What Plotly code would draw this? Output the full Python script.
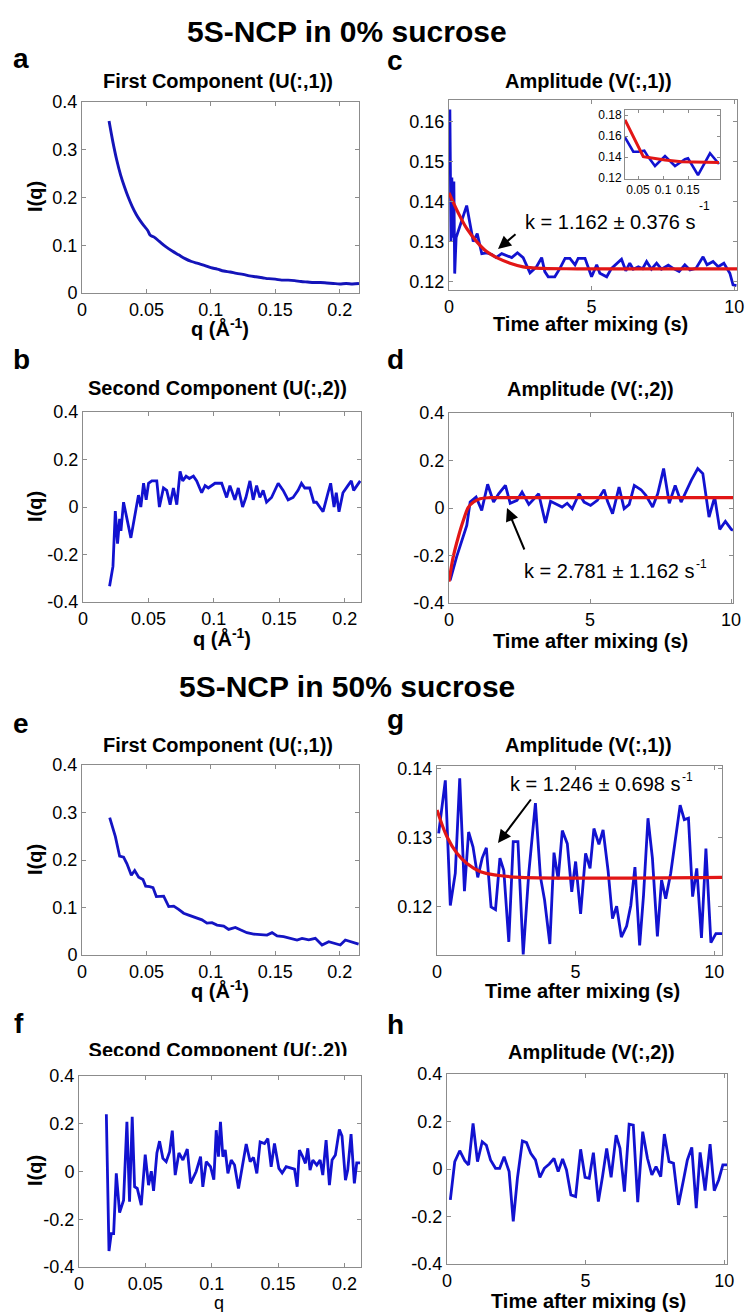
import plotly.graph_objects as go

# ---------------- data ----------------
# a: 0% sucrose, first component
Q_A = [0.021, 0.024, 0.027, 0.030, 0.033, 0.036, 0.039, 0.042, 0.045, 0.048, 0.051, 0.053,
       0.056, 0.060, 0.065, 0.070, 0.075, 0.080, 0.085, 0.090, 0.095, 0.100, 0.105, 0.110,
       0.115, 0.120, 0.125, 0.130, 0.135, 0.140, 0.145, 0.150, 0.155, 0.160, 0.165, 0.170,
       0.175, 0.180, 0.185, 0.190, 0.195, 0.200, 0.205, 0.210, 0.215]
I_A = [0.360, 0.316, 0.278, 0.247, 0.222, 0.200, 0.181, 0.165, 0.152, 0.141, 0.131, 0.121,
       0.117, 0.108, 0.097, 0.088, 0.080, 0.072, 0.066, 0.062, 0.058, 0.053, 0.050, 0.046,
       0.044, 0.041, 0.039, 0.036, 0.034, 0.032, 0.030, 0.029, 0.027, 0.027, 0.026, 0.024,
       0.023, 0.022, 0.022, 0.021, 0.020, 0.019, 0.020, 0.019, 0.020]

# b: 0% sucrose, second component
Q_B = [0.0203, 0.0229, 0.0247, 0.0264, 0.0280, 0.0290, 0.0310, 0.0366, 0.0424, 0.0442,
       0.0463, 0.0483, 0.0501, 0.0526, 0.0564, 0.0584, 0.0615, 0.0640, 0.0666, 0.0691,
       0.0717, 0.0742, 0.0762, 0.0788, 0.0813, 0.0844, 0.0869, 0.0907, 0.0933, 0.0958,
       0.1009, 0.1060, 0.1098, 0.1123, 0.1161, 0.1187, 0.1220, 0.1245, 0.1276, 0.1301,
       0.1327, 0.1352, 0.1377, 0.1403, 0.1441, 0.1492, 0.1530, 0.1568, 0.1606, 0.1644,
       0.1670, 0.1695, 0.1733, 0.1764, 0.1784, 0.1809, 0.1835, 0.1873, 0.1893, 0.1919,
       0.1936, 0.1957, 0.1987, 0.2025, 0.2051, 0.2069, 0.2102, 0.2119]
I_B = [-0.334, -0.25, -0.017, -0.154, -0.05, -0.10, 0.02, -0.13, 0.05, 0.0,
       0.10, 0.03, 0.10, 0.11, 0.11, 0.0, 0.08, 0.07, 0.01, 0.08,
       0.01, 0.15, 0.11, 0.13, 0.12, 0.13, 0.11, 0.06, 0.09, 0.08,
       0.10, 0.10, 0.04, 0.09, 0.03, 0.08, 0.0, 0.04, 0.11, 0.03,
       0.09, 0.04, 0.07, 0.02, 0.04, 0.10, 0.07, 0.03, 0.04, 0.07,
       0.10, 0.08, 0.08, 0.02, 0.02, 0.0, -0.02, 0.06, 0.10, 0.0,
       0.06, -0.02, 0.06, 0.09, 0.11, 0.07, 0.10, 0.11]

# c: 0% sucrose, amplitude V(:,1) + fit
T_C = [0.03, 0.07, 0.10, 0.13, 0.17, 0.20, 0.25, 0.62, 0.85, 0.99, 1.15, 1.32, 1.50, 1.65,
       1.85, 2.00, 2.20, 2.40, 2.60, 2.84, 3.07, 3.25, 3.36, 3.48, 3.71, 3.89, 4.07, 4.24,
       4.42, 4.53, 4.77, 5.00, 5.18, 5.29, 5.53, 5.70, 5.88, 6.05, 6.20, 6.34, 6.46, 6.64,
       6.79, 6.93, 7.10, 7.28, 7.45, 7.69, 7.86, 8.07, 8.27, 8.45, 8.66, 8.91, 9.05, 9.26,
       9.44, 9.64, 9.85, 9.96, 10.08]
V_C = [0.163, 0.130, 0.146, 0.131, 0.145, 0.122, 0.131, 0.139, 0.130, 0.132, 0.127, 0.1272,
       0.1268, 0.126, 0.127, 0.1265, 0.126, 0.1272, 0.126, 0.1222, 0.1237, 0.126, 0.1225,
       0.1212, 0.1212, 0.1233, 0.1258, 0.1258, 0.1242, 0.1258, 0.1258, 0.1212, 0.1242,
       0.1221, 0.1212, 0.1233, 0.1246, 0.1256, 0.1227, 0.1246, 0.1231, 0.1237, 0.1232,
       0.125, 0.1231, 0.1246, 0.1231, 0.1241, 0.1233, 0.1225, 0.1242, 0.1229, 0.1233,
       0.1262, 0.1242, 0.125, 0.1237, 0.1246, 0.1221, 0.1192, 0.119]
T_C_FIT = [0.0, 0.33, 0.62, 0.97, 1.32, 1.73, 2.14, 2.6, 3.3, 4.5, 10.1]
V_C_FIT = [0.1422, 0.1371, 0.1333, 0.1300, 0.1275, 0.1258, 0.1246, 0.1237, 0.1233, 0.1232, 0.1232]

# c inset
X_IN = [0.024, 0.0406, 0.0506, 0.0626, 0.070, 0.084, 0.104, 0.124, 0.144, 0.150, 0.170, 0.194, 0.212]
V_IN = [0.159, 0.1453, 0.1453, 0.1463, 0.1406, 0.1317, 0.1412, 0.1317, 0.1381, 0.139, 0.1231, 0.1438, 0.1336]
X_IN_FIT = [0.024, 0.0606, 0.104, 0.137, 0.212]
V_IN_FIT = [0.1756, 0.1406, 0.1374, 0.1358, 0.1349]

# d: 0% sucrose, amplitude V(:,2) + fit
T_D = [0.04, 0.27, 0.63, 0.75, 0.96, 1.16, 1.37, 1.58, 1.76, 2.0, 2.17, 2.41, 2.59, 2.83,
       3.18, 3.42, 3.60, 3.78, 4.01, 4.19, 4.37, 4.61, 4.79, 5.02, 5.26, 5.50, 5.62, 5.80,
       6.03, 6.21, 6.39, 6.57, 6.81, 6.98, 7.22, 7.40, 7.61, 7.81, 8.02, 8.23, 8.41, 8.59,
       8.82, 9.0, 9.22, 9.42, 9.60, 9.80, 10.01, 10.07]
V_D = [-0.305, -0.206, -0.073, 0.025, 0.046, -0.01, 0.1, 0.025, 0.06, 0.095, 0.02, 0.032,
       0.067, 0.015, 0.06, -0.063, 0.028, 0.018, 0.004, 0.02, -0.003, 0.06, 0.025, 0.011,
       0.032, 0.077, 0.028, -0.024, 0.088, -0.003, 0.015, 0.095, 0.077, 0.053, 0.004, 0.06,
       0.166, 0.02, 0.095, 0.025, 0.074, 0.116, 0.166, 0.145, -0.038, 0.046, -0.09, -0.056,
       -0.09, -0.094]
T_D_FIT = [0.0, 0.15, 0.33, 0.51, 0.69, 0.87, 1.10, 1.46, 2.0, 10.07]
V_D_FIT = [-0.31, -0.206, -0.122, -0.052, 0.004, 0.025, 0.039, 0.0435, 0.0435, 0.0435]

# e: 50% sucrose, first component
Q_E = [0.0215, 0.0259, 0.0292, 0.0323, 0.0349, 0.0383, 0.0409, 0.0440, 0.0473, 0.0494,
       0.0525, 0.0551, 0.0577, 0.0608, 0.0634, 0.0673, 0.0712, 0.0750, 0.0789, 0.0828,
       0.0880, 0.0931, 0.0970, 0.1009, 0.1048, 0.1100, 0.1138, 0.1190, 0.1229, 0.1280,
       0.1332, 0.1384, 0.1436, 0.1475, 0.1514, 0.1565, 0.1617, 0.1669, 0.1708, 0.1760,
       0.1811, 0.1863, 0.1915, 0.1966, 0.2005, 0.2044, 0.2096, 0.2147]
I_E = [0.289, 0.249, 0.208, 0.206, 0.192, 0.168, 0.178, 0.164, 0.159, 0.145,
       0.144, 0.142, 0.123, 0.124, 0.124, 0.102, 0.103, 0.096, 0.088, 0.084,
       0.079, 0.074, 0.067, 0.068, 0.063, 0.061, 0.054, 0.058, 0.053, 0.047,
       0.044, 0.0435, 0.042, 0.047, 0.040, 0.0386, 0.035, 0.0316, 0.035, 0.032,
       0.035, 0.021, 0.028, 0.0246, 0.021, 0.0316, 0.028, 0.023]

# f: 50% sucrose, second component
Q_F = [0.0206, 0.0226, 0.0243, 0.0261, 0.0281, 0.0306, 0.0336, 0.0361, 0.0381, 0.0401,
       0.0419, 0.0439, 0.0469, 0.0499, 0.0524, 0.0545, 0.0562, 0.0587, 0.0607, 0.0632,
       0.0657, 0.0683, 0.0703, 0.0725, 0.0753, 0.0783, 0.0816, 0.0841, 0.0883, 0.0916,
       0.0933, 0.0959, 0.0991, 0.1016, 0.1034, 0.1051, 0.1066, 0.1084, 0.1102, 0.1122,
       0.1147, 0.1172, 0.1202, 0.1230, 0.1260, 0.1290, 0.1315, 0.1340, 0.1365, 0.1398,
       0.1423, 0.1448, 0.1473, 0.1506, 0.1531, 0.1561, 0.1598, 0.1624, 0.1644, 0.1661,
       0.1686, 0.1706, 0.1724, 0.1741, 0.1762, 0.1792, 0.1817, 0.1837, 0.1862, 0.1887,
       0.1907, 0.1932, 0.1962, 0.1982, 0.2008, 0.2025, 0.2050, 0.2075, 0.2093, 0.2118]
I_F = [0.24, -0.333, -0.26, -0.26, -0.008, -0.172, -0.12, 0.208, -0.127, 0.229,
       -0.064, -0.071, -0.141, 0.071, -0.057, 0.001, -0.081, 0.078, 0.127, 0.055,
       0.041, 0.083, 0.171, -0.015, 0.078, 0.048, 0.094, -0.05, 0.0, 0.062,
       -0.064, 0.041, 0.02, -0.034, 0.173, 0.062, 0.208, 0.062, 0.09, -0.008,
       0.048, 0.027, -0.071, 0.027, 0.115, 0.041, 0.059, -0.008, 0.124, 0.117,
       0.138, 0.02, 0.117, 0.013, -0.006, 0.02, 0.013, 0.01, -0.064, 0.09,
       0.062, 0.034, 0.097, 0.006, 0.048, 0.027, 0.048, -0.015, 0.131, -0.057,
       0.048, 0.069, 0.176, 0.148, -0.036, 0.006, 0.157, -0.05, 0.036, 0.036]

# g: 50% sucrose, amplitude V(:,1) + fit
T_G = [0.06, 0.30, 0.48, 0.66, 0.82, 0.99, 1.14, 1.30, 1.47, 1.63, 1.78, 1.95, 2.11, 2.27,
       2.41, 2.59, 2.75, 2.92, 3.11, 3.31, 3.55, 3.73, 3.88, 4.07, 4.22, 4.37, 4.52, 4.70,
       4.86, 5.0, 5.18, 5.36, 5.52, 5.66, 5.84, 5.99, 6.17, 6.33, 6.48, 6.65, 6.84, 6.99,
       7.14, 7.31, 7.45, 7.61, 7.77, 7.95, 8.10, 8.25, 8.43, 8.61, 8.77, 8.92, 9.07, 9.22,
       9.37, 9.54, 9.70, 9.88, 10.06, 10.3]
V_G = [0.1306, 0.1383, 0.1201, 0.1248, 0.1386, 0.1222, 0.1308, 0.1286, 0.1242, 0.127,
       0.1285, 0.1199, 0.1195, 0.127, 0.1252, 0.1148, 0.1294, 0.1294, 0.113, 0.1248,
       0.135, 0.1243, 0.1209, 0.1145, 0.1278, 0.1239, 0.131, 0.1291, 0.1221, 0.1265,
       0.1189, 0.1277, 0.1255, 0.1313, 0.129, 0.1311, 0.1252, 0.1182, 0.12, 0.1155,
       0.1171, 0.1201, 0.1257, 0.1143, 0.1216, 0.1328, 0.127, 0.1156, 0.1238, 0.1211,
       0.1248, 0.1301, 0.1347, 0.1326, 0.1328, 0.1214, 0.1255, 0.1154, 0.1284, 0.1147,
       0.116, 0.116]
T_G_FIT = [0.0, 0.36, 0.72, 1.08, 1.57, 2.17, 3.0, 10.3]
V_G_FIT = [0.134, 0.1301, 0.1277, 0.1262, 0.125, 0.1245, 0.1242, 0.1242]

# h: 50% sucrose, amplitude V(:,2)
T_H = [0.12, 0.28, 0.46, 0.64, 0.78, 0.94, 1.10, 1.27, 1.42, 1.57, 1.75, 1.90, 2.06, 2.24,
       2.39, 2.54, 2.72, 2.87, 3.02, 3.19, 3.35, 3.51, 3.69, 3.86, 4.01, 4.17, 4.31, 4.47,
       4.64, 4.82, 4.98, 5.13, 5.28, 5.46, 5.61, 5.76, 5.92, 6.10, 6.24, 6.40, 6.57, 6.72,
       6.88, 7.06, 7.23, 7.39, 7.54, 7.71, 7.84, 8.01, 8.17, 8.35, 8.53, 8.67, 8.83, 8.99,
       9.13, 9.31, 9.49, 9.64, 9.80, 9.95, 10.1]
V_H = [-0.13, 0.031, 0.077, 0.035, 0.017, 0.192, 0.031, 0.115, 0.1, 0.038,
       0.003, 0.003, 0.052, -0.011, -0.221, -0.039, 0.118, 0.111, 0.066, 0.038,
       -0.035, 0.003, 0.021, 0.045, -0.011, 0.042, -0.004, -0.109, -0.116, 0.083,
       -0.035, -0.039, 0.069, -0.137, -0.032, 0.087, -0.035, 0.143, 0.087, -0.095,
       0.189, 0.185, -0.14, 0.157, 0.045, -0.025, 0.01, -0.032, 0.147, 0.031,
       0.024, -0.151, -0.046, 0.038, 0.091, -0.165, 0.07, -0.091, 0.105, -0.091,
       -0.046, 0.017, 0.017]

# tick labels
Q_TICKS = [0, 0.05, 0.1, 0.15, 0.2]
Q_TICKTEXT = ["0", "0.05", "0.1", "0.15", "0.2"]
T_TICKS = [0, 5, 10]
T_TICKTEXT = ["0", "5", "10"]
U1_TICKS = [0, 0.1, 0.2, 0.3, 0.4]
U1_TICKTEXT = ["0", "0.1", "0.2", "0.3", "0.4"]
PM_TICKS = [-0.4, -0.2, 0, 0.2, 0.4]
PM_TICKTEXT = ["-0.4", "-0.2", "0", "0.2", "0.4"]
C_TICKS = [0.12, 0.13, 0.14, 0.15, 0.16]
C_TICKTEXT = ["0.12", "0.13", "0.14", "0.15", "0.16"]
G_TICKS = [0.12, 0.13, 0.14]
G_TICKTEXT = ["0.12", "0.13", "0.14"]
IN_XTICKS = [0.05, 0.1, 0.15]
IN_XTICKTEXT = ["0.05", "0.1", "0.15"]
IN_YTICKS = [0.12, 0.14, 0.16, 0.18]
IN_YTICKTEXT = ["0.12", "0.14", "0.16", "0.18"]

# ---------------- figure ----------------
W, H = 746, 1312
FONT = "Liberation Sans, Arial, Helvetica, sans-serif"
BLUE = "rgb(18,18,208)"
RED = "rgb(226,22,22)"
AXC = "rgb(140,140,140)"

fig = go.Figure()
layout = {}


def dom(l, r, t, b):
    return [l / W, r / W], [1 - b / H, 1 - t / H]


def make_axes(idx, box, xr, yr, xtv, xtt, ytv, ytt, fs=18, tl=4, visible=True):
    xd, yd = dom(*box)
    sx = "" if idx == 1 else str(idx)
    common = dict(showline=True, linecolor=AXC, linewidth=1, mirror="ticks",
                  ticks="inside", ticklen=tl, tickcolor=AXC, tickwidth=1,
                  showgrid=False, zeroline=False, fixedrange=True, automargin=False,
                  visible=visible,
                  tickfont=dict(family=FONT, size=fs, color="black"))
    layout["xaxis" + sx] = dict(domain=xd, range=xr, anchor="y" + sx, tickmode="array",
                                tickvals=xtv, ticktext=xtt, **common)
    layout["yaxis" + sx] = dict(domain=yd, range=yr, anchor="x" + sx, tickmode="array",
                                tickvals=ytv, ticktext=ytt, **common)
    return "x" + sx, "y" + sx


def line(x, y, axes, color=BLUE, width=2.8, shape="linear"):
    fig.add_trace(go.Scatter(x=x, y=y, mode="lines", xaxis=axes[0], yaxis=axes[1],
                             line=dict(color=color, width=width, shape=shape),
                             showlegend=False, hoverinfo="skip"))


ax_a = make_axes(1, (82, 359, 102, 293), [0, 0.215], [0, 0.4], Q_TICKS, Q_TICKTEXT, U1_TICKS, U1_TICKTEXT)
ax_c = make_axes(2, (449, 737, 100, 290), [0, 10.1], [0.1179, 0.1654], T_TICKS, T_TICKTEXT, C_TICKS, C_TICKTEXT)
ax_b = make_axes(3, (83, 361, 412, 602), [0, 0.2125], [-0.4, 0.4], Q_TICKS, Q_TICKTEXT, PM_TICKS, PM_TICKTEXT)
ax_d = make_axes(4, (449, 733, 413, 603), [0, 10.07], [-0.4, 0.4], T_TICKS, T_TICKTEXT, PM_TICKS, PM_TICKTEXT)
ax_e = make_axes(5, (82, 359, 765, 955), [0, 0.215], [0, 0.4], Q_TICKS, Q_TICKTEXT, U1_TICKS, U1_TICKTEXT)
ax_g = make_axes(6, (437, 722, 766, 955), [0, 10.28], [0.1129, 0.1404], T_TICKS, T_TICKTEXT, G_TICKS, G_TICKTEXT)
ax_f = make_axes(7, (79, 361, 1076, 1267), [0, 0.2125], [-0.4, 0.4], Q_TICKS, Q_TICKTEXT, PM_TICKS, PM_TICKTEXT)
ax_h = make_axes(8, (447, 727, 1074, 1264), [0, 10.1], [-0.4, 0.4], T_TICKS, T_TICKTEXT, PM_TICKS, PM_TICKTEXT)
ax_in = make_axes(9, (625, 720, 110, 179), [0.024, 0.214], [0.1193, 0.185], IN_XTICKS, IN_XTICKTEXT,
                  IN_YTICKS, IN_YTICKTEXT, fs=12, tl=3)
# hidden frame used only to clip the bottom of panel f's title, as in the reference
ax_ft = make_axes(10, (40, 400, 1030, 1056), [0, 1], [0, 1], [], [], [], [], visible=False)

line(Q_A, I_A, ax_a, color="rgb(20,20,185)", width=2.9, shape="spline")
line(T_C, V_C, ax_c)
line(T_C_FIT, V_C_FIT, ax_c, color=RED, width=3.2, shape="spline")
line(Q_B, I_B, ax_b)
line(T_D, V_D, ax_d)
line(T_D_FIT, V_D_FIT, ax_d, color=RED, width=3.2, shape="spline")
line(Q_E, I_E, ax_e, color="rgb(20,20,195)")
line(T_G, V_G, ax_g)
line(T_G_FIT, V_G_FIT, ax_g, color=RED, width=3.2, shape="spline")
line(Q_F, I_F, ax_f)
line(T_H, V_H, ax_h)
line(X_IN, V_IN, ax_in, width=2.6)
line(X_IN_FIT, V_IN_FIT, ax_in, color=RED, width=3)

# clipped title of panel f (centre x=218px, y=1052px)
fig.add_trace(go.Scatter(
    x=[(218 - 40) / 360], y=[(1056 - 1052) / 26], mode="text",
    text=["<b>Second Component (U(:,2))</b>"], textposition="middle center",
    textfont=dict(family=FONT, size=20, color="black"), cliponaxis=True,
    xaxis=ax_ft[0], yaxis=ax_ft[1], showlegend=False, hoverinfo="skip"))

annotations = []


def text(s, px, py, size, bold=False, xanchor="center", angle=0):
    annotations.append(dict(
        text="<b>%s</b>" % s if bold else s, x=px / W, y=1 - py / H, xref="paper", yref="paper",
        xanchor=xanchor, yanchor="middle", showarrow=False, textangle=angle,
        font=dict(family=FONT, size=size, color="black")))


def arrow(hx, hy, tx, ty):
    annotations.append(dict(
        text="", x=hx / W, y=1 - hy / H, xref="paper", yref="paper",
        ax=tx - hx, ay=ty - hy, axref="pixel", ayref="pixel", showarrow=True,
        arrowhead=2, arrowsize=1.3, arrowwidth=2, arrowcolor="black", standoff=0))


# section headers
text("5S-NCP in 0% sucrose", 347, 31, 30, bold=True)
text("5S-NCP in 50% sucrose", 347, 686, 30, bold=True)

# panel letters
for letter, px, py in [("a", 11, 59), ("c", 385, 60), ("b", 11, 359), ("d", 385, 359),
                       ("e", 11, 723), ("g", 385, 719), ("f", 12, 1023), ("h", 385, 1024)]:
    text(letter, px, py, 28, bold=True, xanchor="left")

# subplot titles
text("First Component (U(:,1))", 218, 81, 20, bold=True)
text("Amplitude (V(:,1))", 588, 81, 20, bold=True)
text("Second Component (U(:,2))", 218, 388, 20, bold=True)
text("Amplitude (V(:,2))", 590, 389, 20, bold=True)
text("First Component (U(:,1))", 218, 745, 20, bold=True)
text("Amplitude (V(:,1))", 588, 745, 20, bold=True)
text("Amplitude (V(:,2))", 591, 1052, 20, bold=True)

# axis titles
QLAB = "q (Å<sup>-1</sup>)"
TLAB = "Time after mixing (s)"
text(QLAB, 220, 327, 20, bold=True)
text(QLAB, 222, 637, 20, bold=True)
text(QLAB, 220, 989, 20, bold=True)
text("q", 219, 1303, 18)
text(TLAB, 590, 324, 20, bold=True)
text(TLAB, 590, 641, 20, bold=True)
text(TLAB, 582, 991, 20, bold=True)
text(TLAB, 588, 1301, 20, bold=True)
for py in (197, 507, 860, 1171):
    text("I(q)", 35, py, 20, bold=True, angle=-90)

# rate constants
text("k = 1.162 ± 0.376 s", 523, 222, 20, xanchor="left")
text("-1", 704, 206, 12)
text("k = 2.781 ± 1.162 s", 522, 571, 20, xanchor="left")
text("-1", 701, 564, 12)
text("k = 1.246 ± 0.698 s", 508, 784, 20, xanchor="left")
text("-1", 687, 777, 12)

arrow(498, 249, 517, 233)
arrow(507, 508, 525, 551)
arrow(498, 843, 532, 798)

fig.update_layout(
    width=W, height=H, margin=dict(l=0, r=0, t=0, b=0, autoexpand=False),
    paper_bgcolor="white", plot_bgcolor="white", showlegend=False,
    font=dict(family=FONT, color="black"), annotations=annotations, **layout)

fig.write_html(
    "out.html",
    config={"displayModeBar": False, "staticPlot": True},
    post_script="document.body.style.margin='0px';document.body.style.padding='0px';"
                "document.documentElement.style.overflow='hidden';",
)
